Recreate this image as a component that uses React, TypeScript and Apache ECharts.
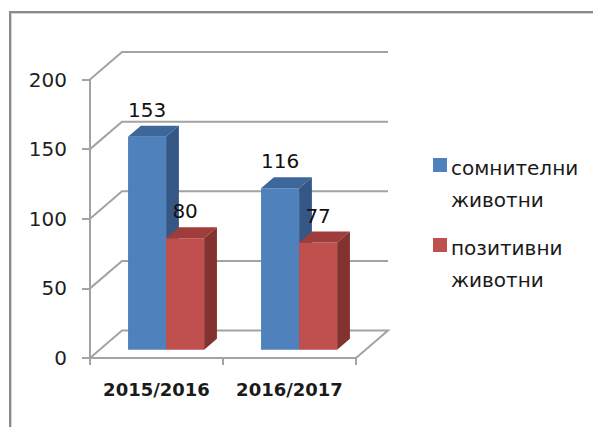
import React, { useEffect, useRef } from "react";
import * as echarts from "echarts";

// ---- data ----
const categories = ["2015/2016", "2016/2017"];
const suspicious = [153, 116];
const positive = [80, 77];
const seriesNames = ["сомнителни животни", "позитивни животни"];
const legendLines = [
  ["сомнителни", "животни"],
  ["позитивни", "животни"],
];
const yTicks = [0, 50, 100, 150, 200];

// ---- styling ----
const FONT = '"DejaVu Sans", sans-serif';
const DEPTH = { dx: 32, dy: -27.5 };
const FRONT = 0.3;
const BACK = 0.7;
const BAR_FRAC = 0.286;
const GRID_COLOR = "#a3a3a3";
const COLORS = [
  { front: "#4F81BD", top: "#3D679B", side: "#345785" },
  { front: "#C0504D", top: "#9E3D3B", side: "#843230" },
];

function barRenderer(slot: number) {
  const c = COLORS[slot];
  return (params: any, api: any) => {
    const cat = api.value(0);
    const val = api.value(1);
    const top = api.coord([cat, val]);
    const base = api.coord([cat, 0]);
    const band = api.size([1, 0])[0];
    const w = band * BAR_FRAC;
    const fx = DEPTH.dx * FRONT;
    const fy = DEPTH.dy * FRONT;
    const bx = DEPTH.dx * (BACK - FRONT);
    const by = DEPTH.dy * (BACK - FRONT);
    const x0 = top[0] + fx + (slot - 1) * w;
    const x1 = x0 + w;
    const yt = top[1] + fy;
    const yb = base[1] + fy;
    return {
      type: "group",
      children: [
        { type: "rect", shape: { x: x0, y: yt, width: w, height: yb - yt }, style: { fill: c.front } },
        {
          type: "polygon",
          shape: { points: [[x0, yt], [x1, yt], [x1 + bx, yt + by], [x0 + bx, yt + by]] },
          style: { fill: c.top },
        },
        {
          type: "polygon",
          shape: { points: [[x1, yt], [x1 + bx, yt + by], [x1 + bx, yb + by], [x1, yb]] },
          style: { fill: c.side },
        },
        {
          type: "text",
          style: {
            text: String(val),
            x: (x0 + x1) / 2,
            y: yt + by - 16,
            textAlign: "center",
            textVerticalAlign: "middle",
            font: `20px ${FONT}`,
            fill: "#111",
          },
        },
      ],
    };
  };
}

function wallRenderer(params: any, api: any) {
  const v = api.value(1);
  const p = api.coord([0, v]);
  const cs = params.coordSys;
  const xl = cs.x;
  const xr = cs.x + cs.width;
  const y = p[1];
  const pts =
    v === 0
      ? [[xr, y], [xr + DEPTH.dx, y + DEPTH.dy], [xl + DEPTH.dx, y + DEPTH.dy], [xl, y]]
      : [[xl, y], [xl + DEPTH.dx, y + DEPTH.dy], [xr + DEPTH.dx, y + DEPTH.dy]];
  return {
    type: "polyline",
    shape: { points: pts },
    style: { stroke: GRID_COLOR, lineWidth: 2, fill: null },
  };
}

export default function App() {
  const ref = useRef<HTMLDivElement>(null);
  useEffect(() => {
    if (!ref.current) return;
    const chart = echarts.init(ref.current, null, { renderer: "svg" });
    const legendGraphics: any[] = [];
    const legendTop = [158, 238];
    legendLines.forEach((lines, i) => {
      legendGraphics.push({
        type: "rect",
        left: 433,
        top: legendTop[i],
        shape: { width: 14, height: 14 },
        style: { fill: COLORS[i].front },
      });
      lines.forEach((t, j) => {
        legendGraphics.push({
          type: "text",
          x: 451,
          y: legendTop[i] + 10 + j * 32,
          style: {
            text: t,
            font: `20px ${FONT}`,
            fill: "#1a1a1a",
            textVerticalAlign: "middle",
          },
        });
      });
    });
    chart.setOption({
      animation: false,
      backgroundColor: "#ffffff",
      grid: { left: 90, right: 237, top: 79.5, bottom: 69, containLabel: false },
      xAxis: {
        type: "category",
        data: categories,
        axisLine: { show: true, lineStyle: { color: GRID_COLOR, width: 2 } },
        axisTick: { show: true, length: 7, lineStyle: { color: GRID_COLOR, width: 2 } },
        axisLabel: {
          interval: 0,
          hideOverlap: false,
          margin: 22,
          fontFamily: FONT,
          fontSize: 18,
          fontWeight: "bold",
          color: "#1a1a1a",
        },
        splitLine: { show: false },
      },
      yAxis: {
        type: "value",
        min: 0,
        max: 200,
        interval: 50,
        axisLine: { show: true, lineStyle: { color: GRID_COLOR, width: 2 } },
        axisTick: { show: true, length: 8, lineStyle: { color: GRID_COLOR, width: 2 } },
        axisLabel: { margin: 23, fontFamily: FONT, fontSize: 20, color: "#1f1f1f" },
        splitLine: { show: false },
      },
      series: [
        {
          type: "custom",
          name: "wall",
          silent: true,
          renderItem: wallRenderer,
          data: yTicks.map((v) => [0, v]),
          z: 1,
        },
        {
          type: "custom",
          name: seriesNames[0],
          renderItem: barRenderer(0),
          data: suspicious.map((v, i) => [i, v]),
          z: 2,
        },
        {
          type: "custom",
          name: seriesNames[1],
          renderItem: barRenderer(1),
          data: positive.map((v, i) => [i, v]),
          z: 3,
        },
      ],
      graphic: [
        { type: "line", shape: { x1: 10, y1: 12, x2: 10, y2: 427 }, style: { stroke: "#8a8a8a", lineWidth: 2 } },
        { type: "line", shape: { x1: 9, y1: 12, x2: 593, y2: 12 }, style: { stroke: "#8a8a8a", lineWidth: 2 } },
        { type: "line", shape: { x1: 11.5, y1: 13.5, x2: 11.5, y2: 427 }, style: { stroke: "#d6d6d6", lineWidth: 1 } },
        { type: "line", shape: { x1: 11, y1: 13.5, x2: 593, y2: 13.5 }, style: { stroke: "#d6d6d6", lineWidth: 1 } },
        ...legendGraphics,
      ],
    });
    return () => chart.dispose();
  }, []);
  return (
    <div
      ref={ref}
      style={{ position: "fixed", left: 0, top: 0, width: 593, height: 427, background: "#fff" }}
    />
  );
}
